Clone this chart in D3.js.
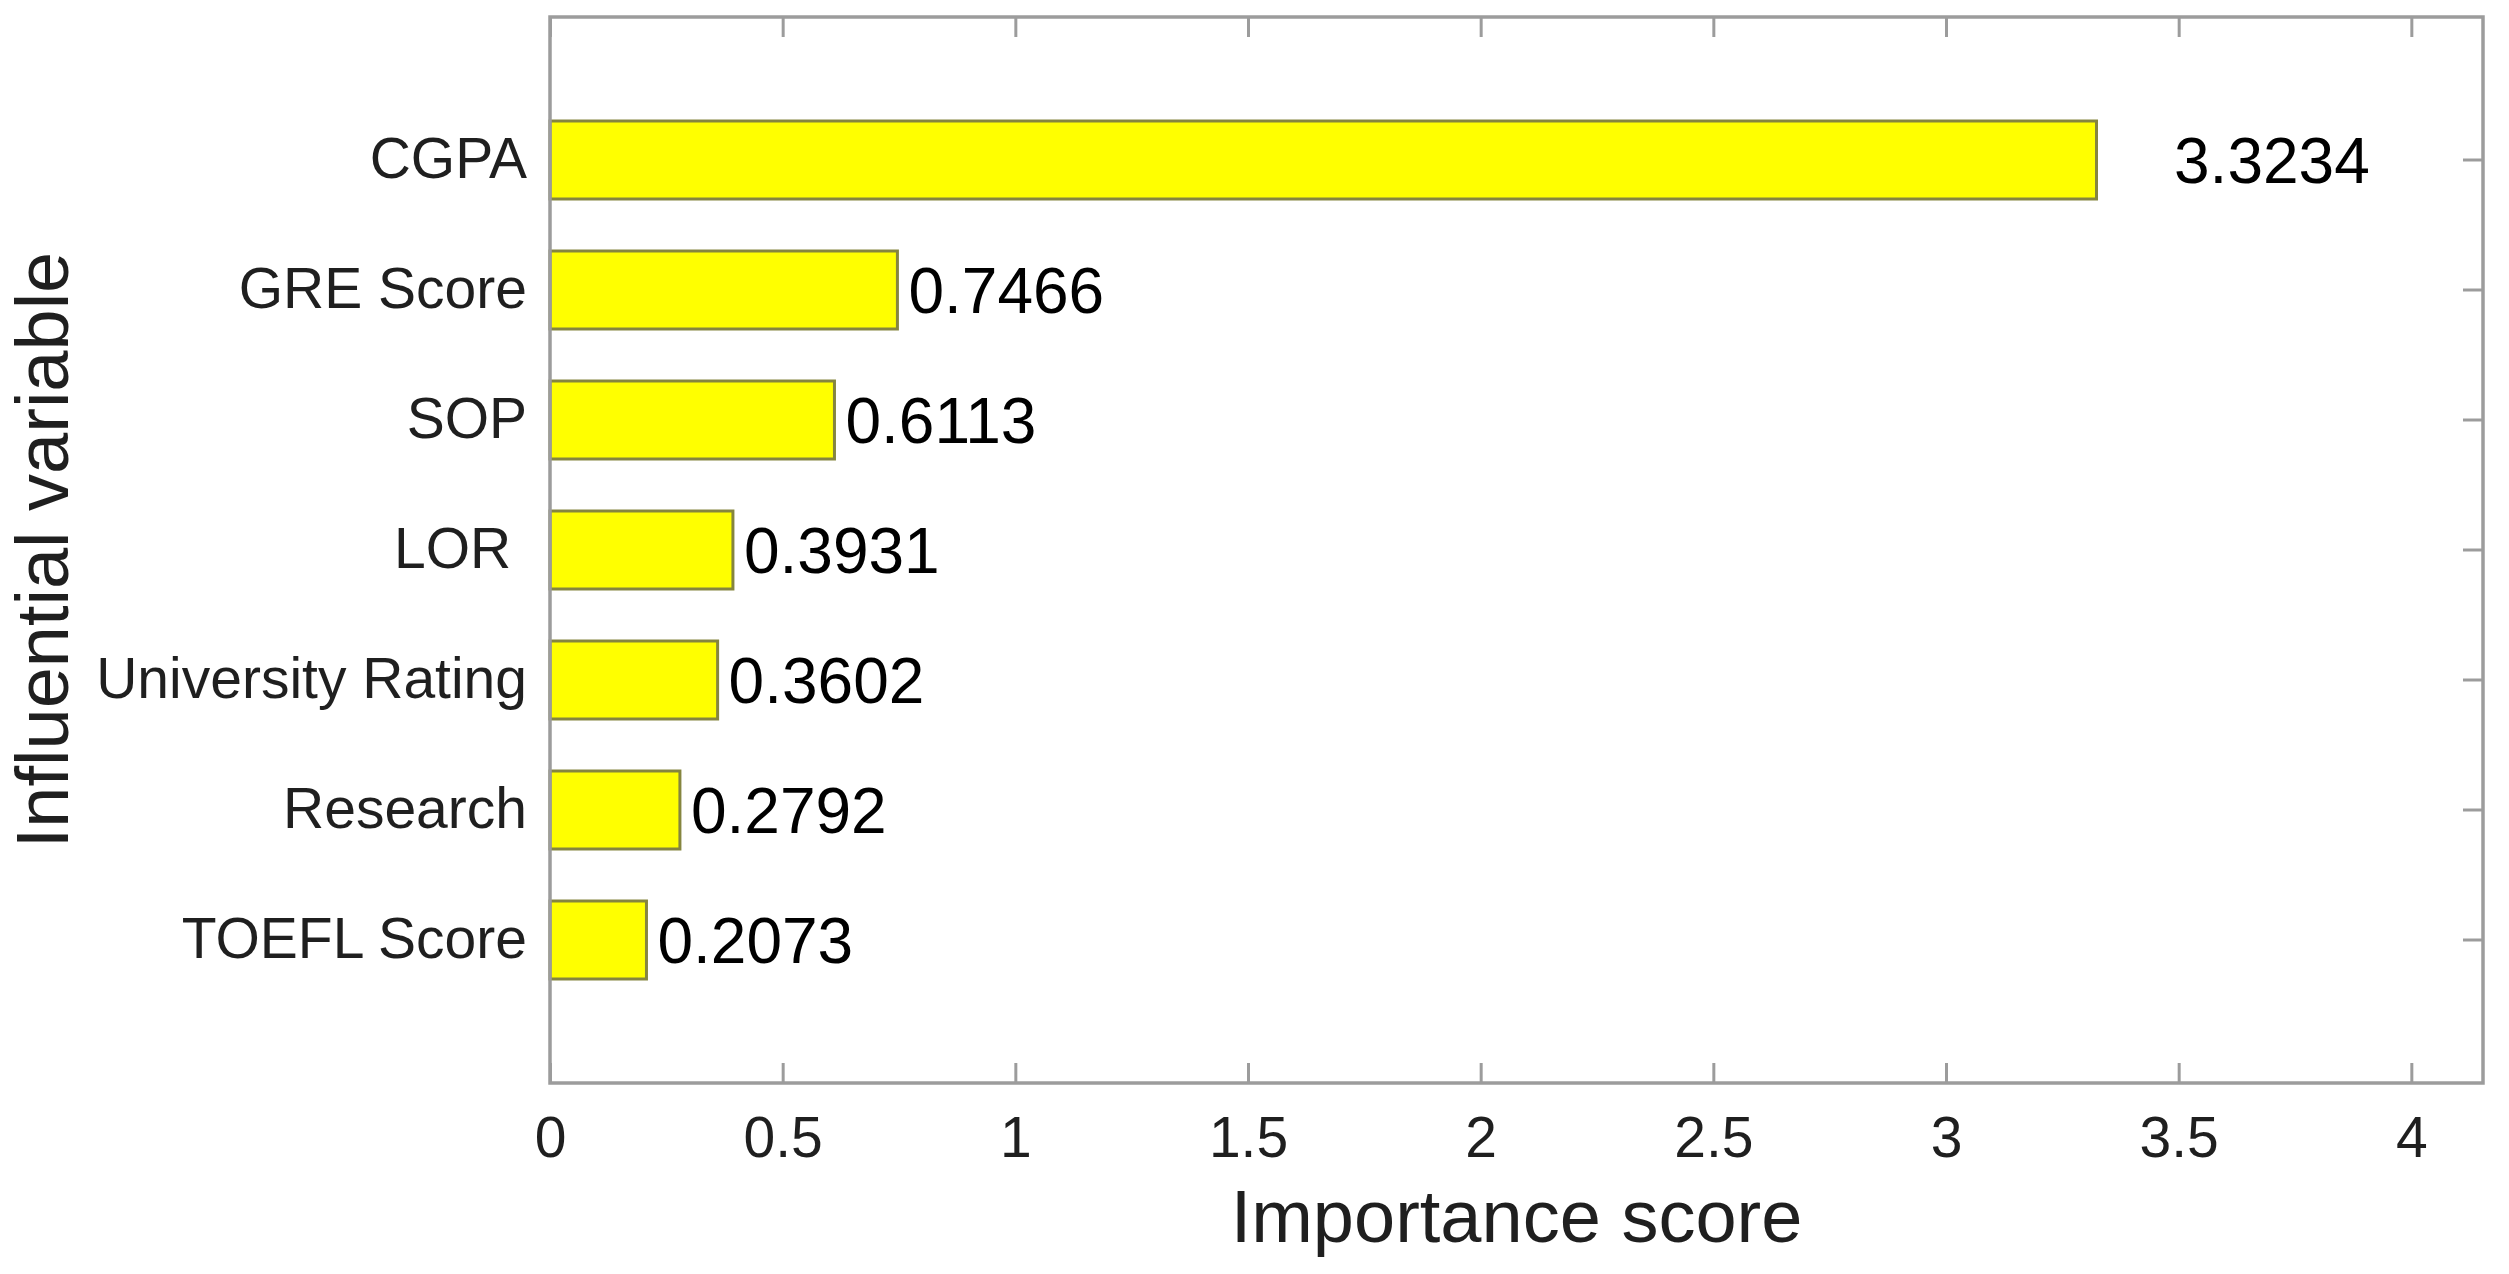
<!DOCTYPE html>
<html lang="en">
  <head>
    <meta charset="UTF-8" />
    <title>Importance score</title>
    <script src="https://d3js.org/d3.v7.min.js"></script>
    <style>
      body {
        margin: 0;
        background: #fff;
      }
      svg text {
        font-family: "Liberation Sans", Arial, sans-serif;
      }
      .cat-label {
        white-space: pre;
      }
    </style>
  </head>
  <body>
    <div id="chart"></div>
    <script>
      // data (top to bottom)
      const variables = ["CGPA", "GRE Score", "SOP", "LOR ", "University Rating", "Research", "TOEFL Score"];
      const scores = [3.3234, 0.7466, 0.6113, 0.3931, 0.3602, 0.2792, 0.2073];
      const scoreLabels = ["3.3234", "0.7466", "0.6113", "0.3931", "0.3602", "0.2792", "0.2073"];
      const xTicks = [0, 0.5, 1, 1.5, 2, 2.5, 3, 3.5, 4];
      const xMax = 4.154;

      const data = variables.map((v, i) => ({ name: v, value: scores[i], label: scoreLabels[i] }));

      const W = 2509, H = 1274;
      const margin = { top: 17, right: 26, bottom: 191, left: 550 };
      const width = W - margin.left - margin.right;
      const height = H - margin.top - margin.bottom;

      const svg = d3.select("#chart")
        .append("svg")
        .attr("width", W)
        .attr("height", H);

      const g = svg.append("g")
        .attr("transform", `translate(${margin.left},${margin.top})`);

      const x = d3.scaleLinear().domain([0, xMax]).range([0, width]);
      const y = d3.scaleBand()
        .domain(variables)
        .range([0, height])
        .paddingInner(0.4)
        .paddingOuter(0.8);

      const axisColor = "#9c9c9c";
      const textColor = "#1f1f1f";

      // left axis (ticks inward, under the bars)
      const yLeft = g.append("g")
        .call(d3.axisLeft(y).tickSizeInner(-20).tickSizeOuter(0).tickPadding(23));
      yLeft.select(".domain").remove();
      yLeft.selectAll("line").attr("stroke", axisColor).attr("stroke-width", 3);
      yLeft.selectAll("text")
        .attr("class", "cat-label")
        .attr("fill", textColor)
        .style("font-size", "57px");

      // right axis ticks
      const yRight = g.append("g")
        .attr("transform", `translate(${width},0)`)
        .call(d3.axisRight(y).tickSizeInner(-20).tickSizeOuter(0).tickFormat(""));
      yRight.select(".domain").remove();
      yRight.selectAll("line").attr("stroke", axisColor).attr("stroke-width", 3);

      // bottom axis
      const xBottom = g.append("g")
        .attr("transform", `translate(0,${height})`)
        .call(d3.axisBottom(x).tickValues(xTicks).tickFormat((d) => String(d))
          .tickSizeInner(-20).tickSizeOuter(0).tickPadding(34));
      xBottom.select(".domain").remove();
      xBottom.selectAll("line").attr("stroke", axisColor).attr("stroke-width", 3);
      xBottom.selectAll("text").attr("fill", textColor).style("font-size", "57px");

      // top axis ticks
      const xTop = g.append("g")
        .call(d3.axisTop(x).tickValues(xTicks).tickFormat("").tickSizeInner(-20).tickSizeOuter(0));
      xTop.select(".domain").remove();
      xTop.selectAll("line").attr("stroke", axisColor).attr("stroke-width", 3);

      // bars
      g.selectAll(".bar")
        .data(data)
        .enter()
        .append("rect")
        .attr("class", "bar")
        .attr("x", x(0))
        .attr("y", (d) => y(d.name))
        .attr("width", (d) => x(d.value) - x(0))
        .attr("height", y.bandwidth())
        .attr("fill", "#ffff00")
        .attr("stroke", "#85853f")
        .attr("stroke-width", 3);

      // value labels
      g.selectAll(".val")
        .data(data)
        .enter()
        .append("text")
        .attr("class", "val")
        .attr("x", (d) => (d.value > 3 ? x(3.49) : x(d.value) + 11))
        .attr("y", (d) => y(d.name) + y.bandwidth() / 2)
        .attr("dy", "0.36em")
        .attr("fill", "#000")
        .style("font-size", "64px")
        .text((d) => d.label);

      // axes box
      g.append("rect")
        .attr("x", 0)
        .attr("y", 0)
        .attr("width", width)
        .attr("height", height)
        .attr("fill", "none")
        .attr("stroke", axisColor)
        .attr("stroke-width", 3.5);

      // axis titles
      svg.append("text")
        .attr("x", margin.left + width / 2)
        .attr("y", 1242)
        .attr("text-anchor", "middle")
        .attr("fill", textColor)
        .style("font-size", "74px")
        .text("Importance score");

      svg.append("text")
        .attr("transform", "rotate(-90)")
        .attr("x", -(margin.top + height / 2))
        .attr("y", 68)
        .attr("text-anchor", "middle")
        .attr("fill", textColor)
        .style("font-size", "74px")
        .text("Influential variable");
    </script>
  </body>
</html>
